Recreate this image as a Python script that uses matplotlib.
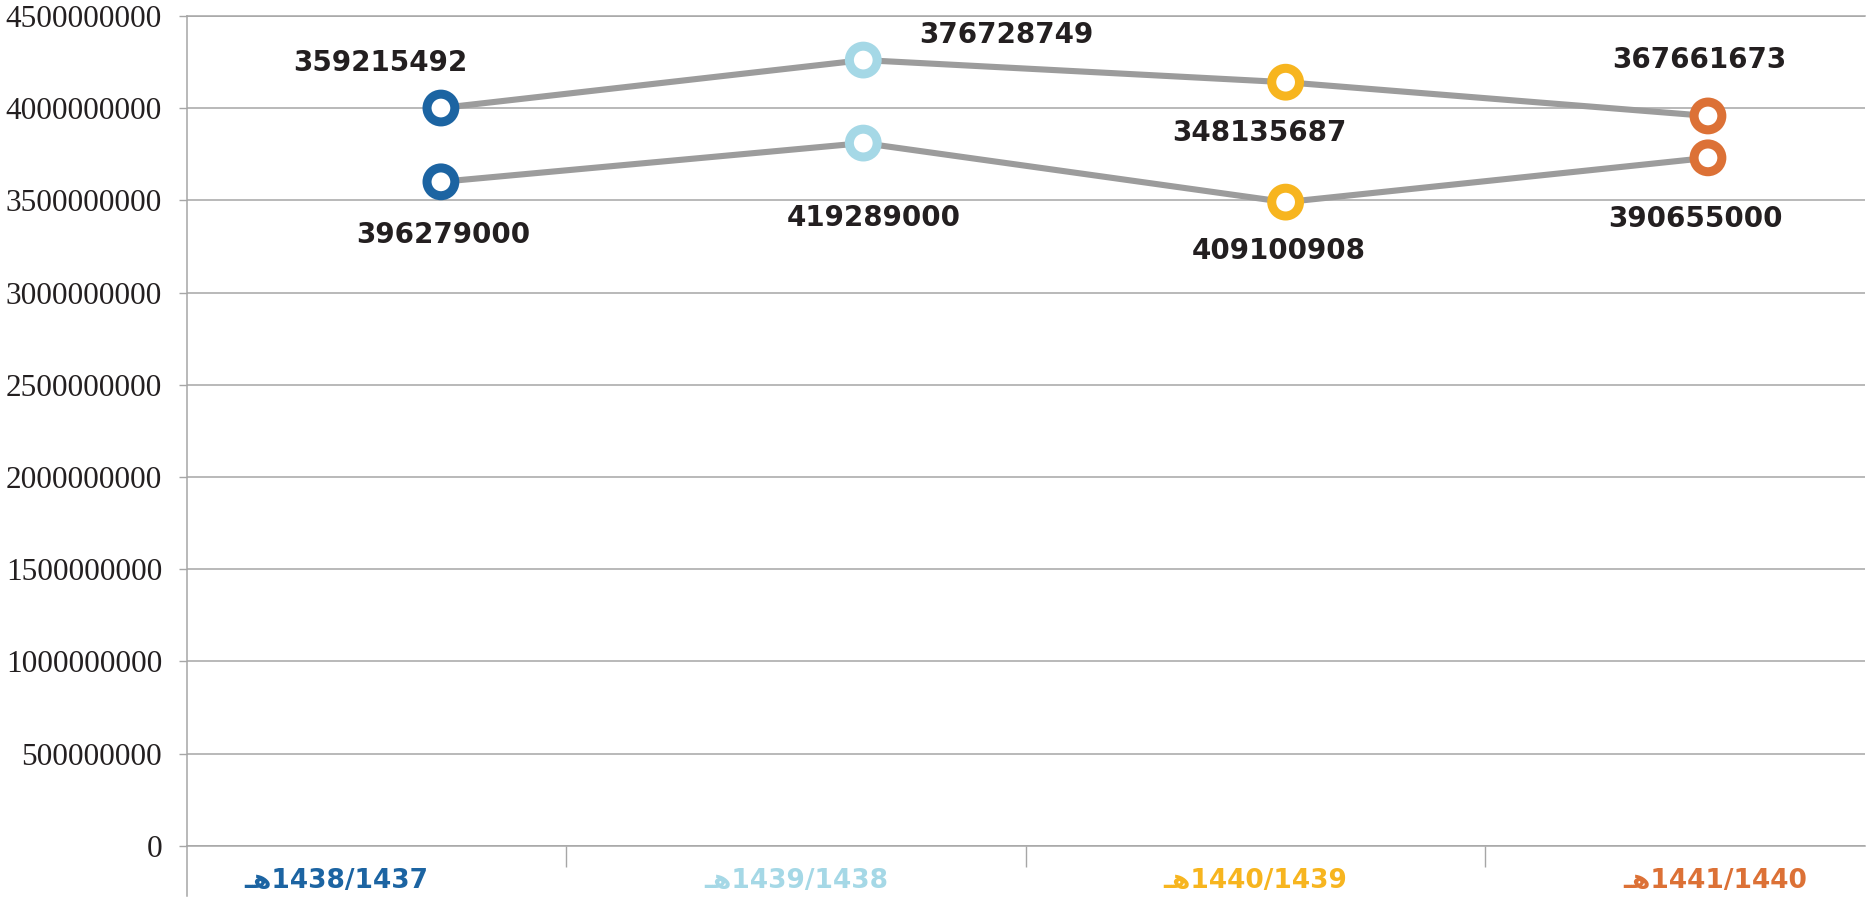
import matplotlib
matplotlib.use("Agg")
import matplotlib.pyplot as plt

# categories (hijri years) and colours per year
periods = ["1438/1437", "1439/1438", "1440/1439", "1441/1440"]
period_colors = ["#1C64A2", "#A5D8E6", "#F7B51F", "#DC7136"]

# plotted heights
upper_line = [4.00e9, 4.26e9, 4.14e9, 3.957e9]
lower_line = [3.60e9, 3.81e9, 3.49e9, 3.73e9]

# the value labels printed next to each line
upper_labels = [359215492, 376728749, 348135687, 367661673]
lower_labels = [396279000, 419289000, 409100908, 390655000]

# label offsets from their marker, in pixels (x right, y up)
upper_offsets = [(-61, 45), (143, 25), (-26, -51), (-9, 56)]
lower_offsets = [(2, -53), (10, -75), (-7, -49), (-13, -61)]

yticks = list(range(0, 4500000001, 500000000))
hijri = "\u0640\uFEEB"  # visual form of the abbreviation after each year

GRID = "#A6A6A6"
TEXT = "#231F20"

fig = plt.figure(figsize=(18.69, 8.97), dpi=100)
ax = fig.add_axes([0.1001, 0.0569, 0.8978, 0.9255])

ax.set_ylim(0, 4.5e9)
ax.set_xlim(-0.324, 3.326)
ax.set_yticks(yticks)
ax.set_yticklabels([str(t) for t in yticks], family="Liberation Serif",
                   fontsize=22.5, color=TEXT)
ax.yaxis.grid(True, color=GRID, linewidth=1.1)
ax.set_axisbelow(True)
ax.tick_params(axis="y", direction="out", length=6, width=1, color=GRID, pad=12)

ax.spines["right"].set_visible(False)
for s in ["left", "top", "bottom"]:
    ax.spines[s].set_color(GRID)
    ax.spines[s].set_linewidth(1.1)

# left axis line runs on below zero
ax.plot([0, 0], [0, -0.06], transform=ax.transAxes, color=GRID, lw=1.1,
        clip_on=False)

# category labels, with tick marks between categories
ax.set_xticks(range(len(periods)))
ax.set_xticklabels([hijri + p for p in periods])
for lbl, c in zip(ax.get_xticklabels(), period_colors):
    lbl.set_color(c)
    lbl.set_family(["DejaVu Sans"])
    lbl.set_fontweight("bold")
    lbl.set_fontsize(19)
ax.tick_params(axis="x", which="major", length=0, pad=16)
ax.set_xticks([0.5, 1.5, 2.5], minor=True)
ax.tick_params(axis="x", which="minor", direction="out", length=15,
               width=1, color=GRID)

# lines sit on their own x scale
lx = ax.twiny()
lx.set_xlim(-0.601, 3.372)
lx.set_ylim(0, 4.5e9)
lx.axis("off")

xs = list(range(len(periods)))
for ys, labels, offs in [(upper_line, upper_labels, upper_offsets),
                         (lower_line, lower_labels, lower_offsets)]:
    lx.plot(xs, ys, color="#9C9C9C", lw=4.4, zorder=2, solid_capstyle="butt")
    lx.scatter(xs, ys, s=20 ** 2, facecolors="white",
               edgecolors=period_colors, linewidths=6.5, zorder=3)
    for x, y, lab, (dx, dy) in zip(xs, ys, labels, offs):
        lx.annotate(str(lab), (x, y), xytext=(dx, dy),
                    textcoords="offset pixels", ha="center", va="center",
                    fontsize=20, fontweight="bold", color=TEXT,
                    family="DejaVu Sans")

fig.savefig("out.png", dpi=100)
